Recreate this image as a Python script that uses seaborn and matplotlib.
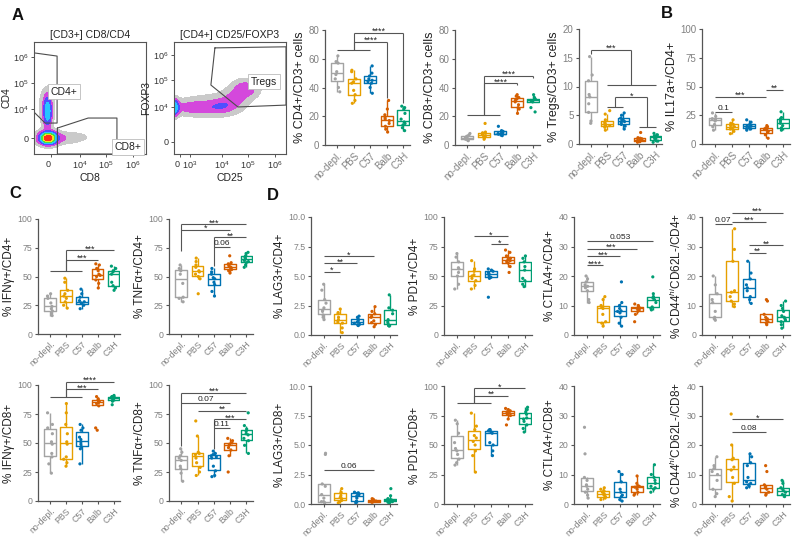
"""T-cell depletion panels: flow gates and per-strain boxplots."""

import matplotlib
matplotlib.use("Agg")
import matplotlib.pyplot as plt
import numpy as np
import pandas as pd
import seaborn as sns

FIG_W, FIG_H = 794, 543

GROUPS = ["no-depl.", "PBS", "C57", "Balb", "C3H"]
GROUP_COLORS = ["#a3a3a3", "#e69f00", "#0072b2", "#d55e00", "#009e73"]

# ---- values (one list per group, in GROUPS order) ----
CD4_CD3 = [
    [37, 40, 46, 49, 51, 57, 58, 62],
    [29, 31, 35, 38, 43, 44, 46, 51, 52],
    [36, 40, 43, 44, 45, 46, 48, 50, 55],
    [9, 11, 13, 15, 17, 18, 19, 21, 25, 31],
    [10, 12, 14, 15, 16, 18, 22, 25, 26, 27],
]
CD8_CD3 = [
    [3, 3.5, 4, 4.5, 5, 6, 7, 8],
    [4, 5, 5.5, 6.5, 7, 7.5, 8.5, 9, 15],
    [6.5, 7, 7.5, 8, 8, 8.5, 9.5, 10, 13],
    [22, 25, 26, 28, 30, 31, 32, 33, 34, 35],
    [23, 26, 30, 30.5, 31, 31, 32, 33, 35],
]
TREGS_CD3 = [
    [3.6, 4, 5.5, 7, 8.2, 8.6, 11, 12, 15.2],
    [2.4, 2.9, 3.1, 3.2, 3.3, 3.4, 3.6, 3.8, 4.2, 5.2, 5.8],
    [2.6, 3.1, 3.4, 3.7, 3.9, 4.1, 4.3, 4.5, 5.0, 5.4],
    [0.3, 0.4, 0.5, 0.6, 0.7, 0.8, 0.9, 1.0, 1.1, 2.0],
    [0.3, 0.5, 0.6, 0.9, 1.1, 1.2, 1.4, 1.5, 1.6, 1.85],
]
IL17_CD4 = [
    [12, 15, 17, 20, 21, 22, 24, 27],
    [9, 11, 13, 14, 15, 16, 17, 18, 21],
    [12, 13, 13.5, 14, 15.5, 16, 17, 19, 21],
    [5, 8, 10, 11, 12, 13, 14, 15, 16],
    [12, 13, 14, 16, 18, 20, 22, 23, 28],
]
IFNG_CD4 = [
    [16, 18, 20, 22, 24, 27, 31, 33, 35],
    [22.5, 25, 28, 31, 33, 35, 38, 45, 48.5],
    [22, 25, 26.5, 27, 28, 29, 32, 35, 39],
    [40, 44, 47, 50, 51, 52, 55, 57, 60, 61],
    [38, 40, 42, 45, 52, 54, 55, 57, 59],
]
TNFA_CD4 = [
    [28, 31, 32, 44, 52, 55, 57, 60],
    [35, 48, 50, 52, 54, 55, 58, 60, 63, 66],
    [33, 37, 43, 45, 48, 49, 52, 54, 57],
    [53, 55, 56, 57, 58, 59, 60, 61, 62, 68],
    [58, 60, 62, 63, 64, 65, 66, 67, 68, 70, 71],
]
IFNG_CD8 = [
    [24, 32, 38, 41, 49, 51, 58, 63, 66, 76],
    [30, 33, 36, 38, 49, 51, 58, 66, 76, 84],
    [32, 45, 47, 49, 51, 53, 55, 61, 63, 66],
    [61, 63, 82, 84, 85, 85, 86, 87, 88, 90],
    [83, 86, 87.5, 88, 89, 89, 90, 90, 91],
]
TNFA_CD8 = [
    [17, 24, 28, 30, 35, 37, 39, 42, 45],
    [22, 25, 29, 33, 37, 40, 41, 42, 56, 69],
    [21, 22, 26, 30, 37, 38, 39, 40, 41, 43],
    [25, 39, 44, 46, 48, 49, 50, 52, 54],
    [41, 48, 52, 54, 57, 58, 60, 62, 65, 76],
]
LAG3_CD4 = [
    [1.3, 1.5, 1.7, 2.0, 2.1, 2.3, 2.7, 3.0, 3.8, 4.3],
    [0.2, 0.6, 1.0, 1.1, 1.3, 1.5, 1.8, 1.9, 2.2],
    [0.8, 0.85, 0.9, 1.0, 1.1, 1.2, 1.35, 1.5, 1.6],
    [0.7, 0.9, 1.05, 1.2, 1.5, 1.6, 1.8, 2.0, 2.4],
    [0.75, 0.8, 0.95, 1.1, 1.3, 1.8, 2.1, 2.3, 3.4],
]
PD1_CD4 = [
    [39, 43, 50, 53, 56, 57, 62, 66, 69],
    [39, 42, 46, 48, 50, 51, 54, 56, 63],
    [32, 48, 49, 50, 52, 53, 54, 55, 56],
    [53, 58, 61, 62, 63, 64, 65, 67, 70, 72],
    [41, 43, 46, 48, 55, 58, 62, 65, 67],
]
CTLA4_CD4 = [
    [11, 12, 15, 16, 16.5, 17, 18, 19, 20],
    [3, 4, 4.5, 7, 9, 9.5, 10, 12, 13],
    [3, 4, 6, 7.5, 8, 8.2, 9, 10, 11, 18],
    [4.5, 7, 8, 8.5, 9, 9.2, 9.5, 10, 10.5],
    [8.5, 9, 9.5, 11, 12, 12.5, 13, 14, 19.7],
]
CD44_CD4 = [
    [5, 5.5, 6, 8, 11, 12, 14, 17, 20],
    [9.6, 10.5, 11.5, 13, 14.5, 15, 25, 29, 36],
    [10.7, 12, 13, 15, 16, 17, 19, 21, 25],
    [3.5, 4, 4.5, 5, 5.5, 6, 7, 11.5, 12],
    [2.3, 3.5, 4.5, 5, 5.5, 6, 6.5, 8, 9, 10, 11.5],
]
LAG3_CD8 = [
    [0.1, 0.2, 0.2, 0.5, 0.8, 1.5, 1.7, 4.2, 4.3],
    [0.1, 0.2, 0.3, 0.45, 0.55, 0.7, 0.9, 1.0, 1.3],
    [0.1, 0.2, 0.25, 0.5, 0.65, 0.8, 0.9, 0.95, 1.0],
    [0.15, 0.18, 0.2, 0.25, 0.28, 0.3, 0.35, 0.4, 0.45],
    [0.1, 0.15, 0.2, 0.25, 0.3, 0.35, 0.4, 0.45, 0.7, 1.3],
]
PD1_CD8 = [
    [33, 35, 38, 42, 45, 47, 52, 60, 68, 71],
    [27, 41, 45, 50, 53, 56, 58, 63, 66, 77],
    [41, 45, 50, 52, 60, 61, 62, 63, 63],
    [67, 72, 75, 76, 77, 78, 78, 79, 80, 81],
    [61, 64, 67, 70, 72, 73, 76, 78, 80, 82],
]
CTLA4_CD8 = [
    [2, 3, 4, 5, 6, 6.5, 8, 9, 17, 26],
    [1.5, 2, 2.5, 3, 3.5, 4, 4.5, 5, 5.5],
    [1, 1.5, 2.5, 3, 4, 5, 7.5, 10, 11],
    [3, 3.5, 4, 5, 5.7, 6, 6.2, 7, 9.5],
    [4, 5, 5.5, 6, 7, 8, 9, 10, 13.3],
]
CD44_CD8 = [
    [2.5, 3.5, 5, 8, 10, 11, 12, 13, 16],
    [1, 2.5, 7, 9, 11.5, 12.5, 15, 15.5, 20, 30.5],
    [5.5, 6, 6.5, 7, 7.5, 9, 13, 14, 16, 17],
    [3, 3.5, 4, 5, 5.5, 6, 6.5, 11, 13],
    [2.5, 3, 3.2, 4, 4.5, 5, 5.5, 7, 8],
]

# ---- significance bars: (x1, x2, y, label, left drop to, right drop to) ----
CD4_CD3_SIG = [(0, 2, 66, "", None, None), (1, 3, 72, "****", 66, 33),
               (1, 4, 78, "****", 66, 29)]
CD8_CD3_SIG = [(0, 2, 21, "", None, None), (1, 3, 43, "****", 21, 41.5),
               (1, 4, 48, "****", 21, 46.5)]
TREGS_SIG = [(0, 2.5, 16.4, "***", 15.6, 10.2), (1, 4, 10.2, "", None, None),
             (1.5, 3.5, 8.1, "*", 6.5, 3.0), (1, 2, 6.5, "", None, None),
             (3, 4, 3.0, "", None, None)]
IL17_SIG = [(0, 1, 28, "0.1", None, None), (0, 3, 41, "***", None, None),
            (3, 4, 47, "**", None, None)]
IFNG_CD4_SIG = [(0, 2, 55, "", None, None), (1, 3, 64.5, "***", 55, None),
                (1, 4, 73, "***", 55, None)]
TNFA_CD4_SIG = [(0, 4, 95.4, "***", 72, None), (0, 3, 90.5, "*", None, None),
                (2, 4, 84, "**", 59, None), (2, 3, 76, "0.06", None, None)]
IFNG_CD8_SIG = [(0, 2, 90, "", None, None), (1, 3, 96.3, "***", 90, None),
                (1, 4, 103, "****", 90, None)]
TNFA_CD8_SIG = [(0, 4, 93.4, "***", 47, None), (0, 3, 84.8, "0.07", None, None),
                (1, 4, 77.6, "**", None, None), (2, 4, 70.4, "***", 45, None),
                (2, 3, 63.2, "0.11", None, None)]
LAG3_CD4_SIG = [(0, 1, 5.35, "*", None, None), (0, 2, 6.06, "**", None, None),
                (0, 3, 6.68, "*", None, None)]
PD1_CD4_SIG = [(1, 3, 83.7, "*", None, None), (2, 3, 76.9, "*", None, None)]
CTLA4_CD4_SIG = [(0, 1, 23.7, "****", None, None), (0, 2, 26.7, "***", None, None),
                 (0, 3, 29.3, "***", None, None), (0, 4, 31.9, "0.053", None, None)]
CD44_CD4_SIG = [(0, 1, 37.5, "0.07", None, None), (1, 4, 41.5, "***", None, None),
                (1, 3, 38.3, "***", None, None), (2, 4, 30.4, "**", None, None),
                (2, 3, 27.8, "**", None, None)]
LAG3_CD8_SIG = [(0, 3, 2.85, "0.06", None, None)]
PD1_CD8_SIG = [(0, 2, 85.9, "", None, None), (1, 3, 91.5, "**", 85.9, None),
               (1, 4, 98, "*", 85.9, None)]
CTLA4_CD8_SIG = []
CD44_CD8_SIG = [(1, 4, 28.7, "*", None, None), (1, 3, 24.3, "0.08", None, None)]

# ---- flow cytometry plots (axes in display units of the biex scale) ----
# populations: centre x, centre y, spread x, spread y, relative density
FLOW1_POPS = [
    (-0.1, 0.0, 0.12, 0.09, 6.0),
    (-0.1, 0.0, 0.24, 0.16, 1.4),
    (-0.12, 1.0, 0.09, 0.34, 1.2),
    (-0.15, 1.15, 0.2, 0.5, 0.22),
    (0.45, 0.0, 0.38, 0.14, 0.2),
    (1.2, 0.05, 0.5, 0.2, 0.07),
]
FLOW2_POPS = [
    (-0.25, 1.28, 0.12, 0.18, 1.5),
    (0.7, 1.28, 0.7, 0.17, 0.36),
    (1.6, 1.36, 0.32, 0.18, 0.28),
    (2.05, 1.62, 0.28, 0.2, 0.26),
    (2.45, 1.98, 0.32, 0.22, 0.4),
    (1.2, 1.4, 1.0, 0.42, 0.1),
]
FLOW1_XTICKS = [0, 1.10, 2.07, 3.07]
FLOW1_XTICKLABELS = ["0", "$10^4$", "$10^5$", "$10^6$"]
FLOW1_YTICKS = [0, 1.09, 2.08, 3.06]
FLOW1_YTICKLABELS = ["0", "$10^4$", "$10^5$", "$10^6$"]
FLOW2_XTICKS = [0, 0.37, 1.56, 2.55, 3.56]
FLOW2_XTICKLABELS = ["0", "$10^3$", "$10^4$", "$10^5$", "$10^6$"]
FLOW2_YTICKS = [0, 1.31, 2.31, 3.24]
FLOW2_YTICKLABELS = ["0", "$10^4$", "$10^5$", "$10^6$"]
CD4_GATE = [(-0.63, 3.21), (0.236, 3.09), (0.236, 0.566), (-0.213, 0.566), (-0.63, 0.98)]
CD8_GATE = [(0.247, 0.377), (1.40, 0.755), (2.48, 0.755), (2.48, -0.6), (0.247, -0.6)]
TREG_GATE = [(1.31, 3.51), (3.97, 3.55), (3.97, 1.37), (2.17, 1.30), (1.16, 2.12)]

DENSITY_LEVELS = [0.08, 0.25, 0.5, 0.9, 1.6, 2.8, 4.5, 100]
DENSITY_COLORS = ["#cacaca", "#d448dc", "#4f4fff", "#26c6ff", "#45e045",
                  "#f2e21a", "#ff2a1a"]

LINE_COLOR = "#555555"
TICK_COLOR = "#808080"


def px_rect(left, top, right, bottom):
    return [left / FIG_W, 1 - bottom / FIG_H, (right - left) / FIG_W,
            (bottom - top) / FIG_H]


def long_frame(values):
    rows = []
    for group, vals in zip(GROUPS, values):
        for v in vals:
            rows.append({"group": group, "value": v})
    return pd.DataFrame(rows)


def draw_bar(ax, x1, x2, y, label, left_to, right_to):
    kw = dict(color=LINE_COLOR, lw=0.8, clip_on=False, solid_capstyle="butt")
    ax.plot([x1, x2], [y, y], **kw)
    if left_to is not None:
        ax.plot([x1, x1], [left_to, y], **kw)
    if right_to is not None:
        ax.plot([x2, x2], [right_to, y], **kw)
    if label:
        stars = set(label) == {"*"}
        ax.annotate(label, xy=((x1 + x2) / 2, y),
                    xytext=(0, -2.3 if stars else 0.0),
                    textcoords="offset points", ha="center", va="bottom",
                    fontsize=6.6 if stars else 6.0, color="#222222",
                    annotation_clip=False)


def box_panel(fig, rect, values, ylabel, ylim, yticks, ytick_fmt, bars,
              label_size=9, tick_size=7):
    ax = fig.add_axes(px_rect(*rect))
    df = long_frame(values)
    sns.boxplot(data=df, x="group", y="value", hue="group", order=GROUPS,
                hue_order=GROUPS, palette=GROUP_COLORS, fill=False, width=0.72,
                showfliers=False, showcaps=False, linewidth=1.0, legend=False,
                ax=ax)
    sns.stripplot(data=df, x="group", y="value", hue="group", order=GROUPS,
                  hue_order=GROUPS, palette=GROUP_COLORS, size=2.3, jitter=0.16,
                  legend=False, ax=ax)
    ax.set_xlim(-0.75, 4.4)
    ax.set_ylim(*ylim)
    ax.set_yticks(yticks)
    ax.set_yticklabels([ytick_fmt.format(t) for t in yticks])
    ax.set_xticks(range(len(GROUPS)))
    ax.set_xticklabels(GROUPS, rotation=45, ha="right", rotation_mode="anchor")
    ax.set_xlabel("")
    ax.set_ylabel(ylabel, fontsize=label_size, color="#222222", labelpad=2)
    sns.despine(ax=ax)
    for side in ("left", "bottom"):
        ax.spines[side].set_color(LINE_COLOR)
        ax.spines[side].set_linewidth(0.9)
    ax.tick_params(axis="both", colors=LINE_COLOR, labelcolor=TICK_COLOR,
                   labelsize=tick_size, length=2.5, width=0.8, pad=1.5)
    for bar in bars:
        draw_bar(ax, *bar)
    return ax


def flow_panel(fig, rect, pops, xlim, ylim, xticks, xticklabels, yticks,
               yticklabels, gates, title, xlabel, ylabel):
    ax = fig.add_axes(px_rect(*rect))
    xs = np.linspace(xlim[0], xlim[1], 300)
    ys = np.linspace(ylim[0], ylim[1], 300)
    grid_x, grid_y = np.meshgrid(xs, ys)
    dens = np.zeros_like(grid_x)
    for cx, cy, sx, sy, w in pops:
        dens += w * np.exp(-0.5 * (((grid_x - cx) / sx) ** 2 + ((grid_y - cy) / sy) ** 2))
    ax.contourf(grid_x, grid_y, dens, levels=DENSITY_LEVELS, colors=DENSITY_COLORS)
    for gate, (name, pos) in gates:
        gx = [p[0] for p in gate] + [gate[0][0]]
        gy = [p[1] for p in gate] + [gate[0][1]]
        ax.plot(gx, gy, color="#4d4d4d", lw=0.8)
        ax.text(pos[0], pos[1], name, fontsize=7.5, ha="center", va="center",
                color="#222222",
                bbox=dict(boxstyle="square,pad=0.25", fc="white", ec="#bbbbbb", lw=0.6))
    ax.set_xlim(*xlim)
    ax.set_ylim(*ylim)
    ax.set_xticks(xticks)
    ax.set_xticklabels(xticklabels)
    ax.set_yticks(yticks)
    ax.set_yticklabels(yticklabels)
    # keep the "0" clear of a close neighbouring decade label
    ax.get_xticklabels()[0].set_horizontalalignment("right")
    for spine in ax.spines.values():
        spine.set_color("#555555")
        spine.set_linewidth(0.8)
    ax.tick_params(colors="#555555", labelcolor="#333333", labelsize=6.5,
                   length=2.5, width=0.7, pad=1.5)
    ax.set_title(title, fontsize=7.5, color="#222222", pad=3)
    ax.set_xlabel(xlabel, fontsize=7.5, color="#222222", labelpad=1)
    ax.set_ylabel(ylabel, fontsize=7.5, color="#222222", labelpad=1)
    return ax


def main():
    sns.set_theme(style="ticks")
    plt.rcParams["font.family"] = ["Liberation Sans", "DejaVu Sans"]
    plt.rcParams["mathtext.fontset"] = "custom"
    plt.rcParams["mathtext.rm"] = "Liberation Sans"
    plt.rcParams["mathtext.it"] = "Liberation Sans:italic"

    fig = plt.figure(figsize=(FIG_W / 100, FIG_H / 100), dpi=100)

    flow_panel(fig, (34, 42, 146, 154), FLOW1_POPS, (-0.63, 3.57), (-0.6, 3.62),
               FLOW1_XTICKS, FLOW1_XTICKLABELS, FLOW1_YTICKS, FLOW1_YTICKLABELS,
               [(CD4_GATE, ("CD4+", (0.5, 1.74))), (CD8_GATE, ("CD8+", (2.9, -0.34)))],
               "[CD3+] CD8/CD4", "CD8", "CD4")
    flow_panel(fig, (174, 42, 286, 154), FLOW2_POPS, (-0.22, 3.97), (-0.46, 3.73),
               FLOW2_XTICKS, FLOW2_XTICKLABELS, FLOW2_YTICKS, FLOW2_YTICKLABELS,
               [(TREG_GATE, ("Tregs", (3.15, 2.24)))],
               "[CD4+] CD25/FOXP3", "CD25", "FOXP3")

    pct100 = [0, 25, 50, 75, 100]
    pct80 = [0, 20, 40, 60, 80]
    pct40 = [0, 10, 20, 30, 40]
    pct20 = [0, 5, 10, 15, 20]
    pct10 = [0, 2.5, 5, 7.5, 10]

    box_panel(fig, (325, 30, 410, 145), CD4_CD3, "% CD4+/CD3+ cells", (0, 80),
              pct80, "{:g}", CD4_CD3_SIG)
    box_panel(fig, (455, 30, 540, 145), CD8_CD3, "% CD8+/CD3+ cells", (0, 80),
              pct80, "{:g}", CD8_CD3_SIG)
    box_panel(fig, (579, 29, 662, 144), TREGS_CD3, "% Tregs/CD3+ cells", (0, 20),
              pct20, "{:g}", TREGS_SIG)
    box_panel(fig, (702, 29, 790, 144), IL17_CD4, "% IL17a+/CD4+", (0, 100),
              pct100, "{:g}", IL17_SIG)

    small = dict(label_size=8.5, tick_size=6.3)
    box_panel(fig, (38, 219, 120, 334), IFNG_CD4, "% IFNγ+/CD4+", (0, 100),
              pct100, "{:g}", IFNG_CD4_SIG, **small)
    box_panel(fig, (169, 219, 253, 334), TNFA_CD4, "% TNFα+/CD4+", (0, 100),
              pct100, "{:g}", TNFA_CD4_SIG, **small)
    box_panel(fig, (38, 385, 120, 501), IFNG_CD8, "% IFNγ+/CD8+", (0, 100),
              pct100, "{:g}", IFNG_CD8_SIG, **small)
    box_panel(fig, (169, 385, 253, 501), TNFA_CD8, "% TNFα+/CD8+", (0, 100),
              pct100, "{:g}", TNFA_CD8_SIG, **small)

    box_panel(fig, (311, 217, 397, 335), LAG3_CD4, "% LAG3+/CD4+", (0, 10),
              pct10, "{:.1f}", LAG3_CD4_SIG, **small)
    box_panel(fig, (444, 217, 532, 335), PD1_CD4, "% PD1+/CD4+", (0, 100),
              pct100, "{:g}", PD1_CD4_SIG, **small)
    box_panel(fig, (574, 217, 660, 335), CTLA4_CD4, "% CTLA4+/CD4+", (0, 40),
              pct40, "{:g}", CTLA4_CD4_SIG, **small)
    box_panel(fig, (702, 217, 790, 335), CD44_CD4, "% CD44$^{hi}$CD62L-/CD4+",
              (0, 40), pct40, "{:g}", CD44_CD4_SIG, **small)
    box_panel(fig, (311, 386, 397, 504), LAG3_CD8, "% LAG3+/CD8+", (0, 10),
              pct10, "{:.1f}", LAG3_CD8_SIG, **small)
    box_panel(fig, (444, 386, 532, 504), PD1_CD8, "% PD1+/CD8+", (0, 100),
              pct100, "{:g}", PD1_CD8_SIG, **small)
    box_panel(fig, (574, 386, 660, 504), CTLA4_CD8, "% CTLA4+/CD8+", (0, 40),
              pct40, "{:g}", CTLA4_CD8_SIG, **small)
    box_panel(fig, (702, 386, 790, 504), CD44_CD8, "% CD44$^{hi}$CD62L-/CD8+",
              (0, 40), pct40, "{:g}", CD44_CD8_SIG, **small)

    for letter, (x, y) in {"A": (18, 15), "B": (667, 13), "C": (15, 194),
                           "D": (273, 195)}.items():
        fig.text(x / FIG_W, 1 - y / FIG_H, letter, fontsize=12, fontweight="bold",
                 ha="center", va="center", color="#111111")

    fig.savefig("out.png", dpi=100)
    plt.close(fig)


if __name__ == "__main__":
    main()
